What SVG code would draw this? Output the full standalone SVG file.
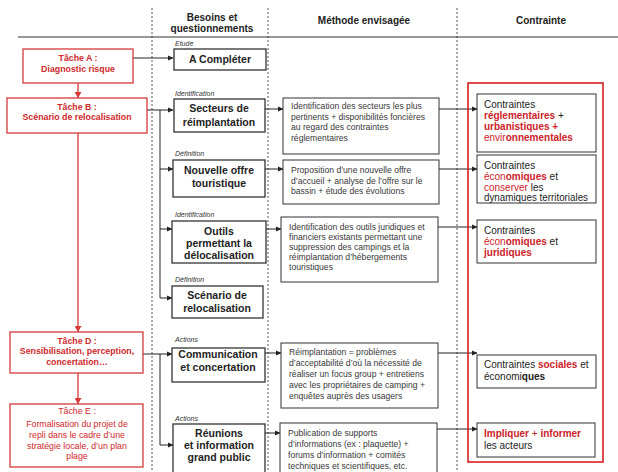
<svg xmlns="http://www.w3.org/2000/svg" width="618" height="472" viewBox="0 0 618 472">
<defs>
<style>
text{font-family:"Liberation Sans",Arial,sans-serif}
.hdr{font-size:10px;font-weight:bold;fill:#222;text-anchor:middle}
.tb{fill:#fff;stroke:#d6393a;stroke-width:1.3}
.tt{font-size:8.8px;font-weight:bold;fill:#d0282c;text-anchor:middle}
.tn{font-size:8.8px;fill:#d0282c;text-anchor:middle}
.bb{fill:#fff;stroke:#333;stroke-width:1.3}
.bt{font-size:10.5px;font-weight:bold;fill:#222;text-anchor:middle}
.lab{font-size:7px;font-style:italic;fill:#333}
.mb{fill:#fff;stroke:#333;stroke-width:1}
.mt{font-size:8.6px;fill:#383838}
.ct{font-size:10px;fill:#222}
.r{fill:#cc2229}
.rb{fill:#cc2229;font-weight:bold}
.dash{stroke:#555;stroke-width:1;stroke-dasharray:2 2;fill:none}
.ln{stroke:#222;stroke-width:1;fill:none}
.rln{stroke:#d6393a;stroke-width:1.3;fill:none}
</style>
<marker id="ah" markerWidth="6" markerHeight="6" refX="5" refY="3" orient="auto" markerUnits="userSpaceOnUse">
<path d="M0,0.5 L5.5,3 L0,5.5 Z" fill="#222"/>
</marker>
<marker id="rah" markerWidth="7" markerHeight="7" refX="6" refY="3.5" orient="auto" markerUnits="userSpaceOnUse">
<path d="M0,0 L6,3.5 L0,7 Z" fill="#d6393a"/>
</marker>
</defs>

<g id="grid">
<line class="dash" x1="152" y1="8" x2="152" y2="472"/>
<line class="dash" x1="268" y1="8" x2="268" y2="472"/>
<line class="dash" x1="457" y1="8" x2="457" y2="472"/>
<line x1="18" y1="37" x2="618" y2="37" stroke="#333" stroke-width="1"/>
<text class="hdr" x="212" y="21">Besoins et</text>
<text class="hdr" x="212" y="32">questionnements</text>
<text class="hdr" x="364" y="24">Méthode envisagée</text>
<text class="hdr" x="541" y="24">Contrainte</text>
</g>

<g id="connectors">
<line class="rln" x1="78" y1="83" x2="78" y2="98" marker-end="url(#rah)"/>
<line class="rln" x1="78" y1="133" x2="78" y2="332" marker-end="url(#rah)"/>
<line class="rln" x1="78" y1="373" x2="78" y2="404" marker-end="url(#rah)"/>
<line class="ln" x1="133" y1="58" x2="173" y2="58" marker-end="url(#ah)"/>
<line class="ln" x1="147" y1="110" x2="173" y2="110" marker-end="url(#ah)"/>
<polyline class="ln" points="160,110 160,298 172,298" marker-end="url(#ah)"/>
<line class="ln" x1="160" y1="169" x2="173" y2="169" marker-end="url(#ah)"/>
<line class="ln" x1="160" y1="229" x2="172" y2="229" marker-end="url(#ah)"/>
<line class="ln" x1="143" y1="354" x2="172" y2="354" marker-end="url(#ah)"/>
<polyline class="ln" points="160,354 160,445 173,445" marker-end="url(#ah)"/>
<line class="ln" x1="265" y1="109" x2="283" y2="109" marker-end="url(#ah)"/>
<line class="ln" x1="265" y1="169" x2="283" y2="169" marker-end="url(#ah)"/>
<line class="ln" x1="266" y1="229" x2="281" y2="229" marker-end="url(#ah)"/>
<line class="ln" x1="265" y1="353" x2="281" y2="353" marker-end="url(#ah)"/>
<line class="ln" x1="265" y1="433" x2="280" y2="433" marker-end="url(#ah)"/>
<line class="ln" x1="439" y1="109" x2="477" y2="109" marker-end="url(#ah)"/>
<line class="ln" x1="439" y1="169" x2="477" y2="169" marker-end="url(#ah)"/>
<line class="ln" x1="438" y1="227" x2="477" y2="227" marker-end="url(#ah)"/>
<line class="ln" x1="438" y1="353" x2="477" y2="353" marker-end="url(#ah)"/>
<line class="ln" x1="437" y1="429" x2="477" y2="429" marker-end="url(#ah)"/>
</g>

<g id="tacheA">
<rect class="tb" x="23" y="49" width="110" height="34"/>
<text class="tt" x="78" y="61">Tâche A :</text>
<text class="tt" x="78" y="72">Diagnostic risque</text>
</g>
<g id="tacheB">
<rect class="tb" x="7" y="98" width="140" height="35"/>
<text class="tt" x="77" y="110">Tâche B :</text>
<text class="tt" x="77" y="120">Scénario de relocalisation</text>
</g>
<g id="tacheD">
<rect class="tb" x="10" y="332" width="133" height="41"/>
<text class="tt" x="77" y="344">Tâche D :</text>
<text class="tt" x="77" y="354">Sensibilisation,  perception,</text>
<text class="tt" x="77" y="365">concertation…</text>
</g>
<g id="tacheE">
<rect class="tb" x="10" y="404" width="133" height="63"/>
<text class="tn" x="77" y="414">Tâche E :</text>
<text class="tn" x="77" y="427">Formalisation du projet de</text>
<text class="tn" x="77" y="438">repli dans le cadre d’une</text>
<text class="tn" x="77" y="449">stratégie locale, d’un plan</text>
<text class="tn" x="77" y="459">plage</text>
</g>

<g id="aCompleter">
<text class="lab" x="175" y="46">Etude</text>
<rect class="bb" x="174" y="49" width="92" height="21"/>
<text class="bt" x="220" y="63">A Compléter</text>
</g>
<g id="secteurs">
<text class="lab" x="175" y="96">Identification</text>
<rect class="bb" x="174" y="99" width="91" height="33"/>
<text class="bt" x="219" y="112">Secteurs de</text>
<text class="bt" x="219" y="126">réimplantation</text>
</g>
<g id="nouvelleOffre">
<text class="lab" x="175" y="156">Définition</text>
<rect class="bb" x="173" y="160" width="92" height="37"/>
<text class="bt" x="219" y="174">Nouvelle offre</text>
<text class="bt" x="219" y="187">touristique</text>
</g>
<g id="outils">
<text class="lab" x="175" y="217">Identification</text>
<rect class="bb" x="172" y="221" width="94" height="42" stroke-width="1.6"/>
<text class="bt" x="219" y="235">Outils</text>
<text class="bt" x="219" y="247">permettant la</text>
<text class="bt" x="219" y="259">délocalisation</text>
</g>
<g id="scenario">
<text class="lab" x="175" y="282">Définition</text>
<rect class="bb" x="172" y="286" width="91" height="32" stroke-width="2"/>
<text class="bt" x="217" y="299">Scénario de</text>
<text class="bt" x="217" y="312">relocalisation</text>
</g>
<g id="communication">
<text class="lab" x="175" y="342">Actions</text>
<rect class="bb" x="172" y="348" width="93" height="34"/>
<text class="bt" x="218" y="358">Communication</text>
<text class="bt" x="218" y="371">et concertation</text>
</g>
<g id="reunions">
<text class="lab" x="175" y="421">Actions</text>
<rect class="bb" x="173" y="424" width="92" height="60"/>
<text class="bt" x="219" y="437">Réunions</text>
<text class="bt" x="219" y="449">et information</text>
<text class="bt" x="219" y="461">grand public</text>
</g>

<g id="methode1">
<rect class="mb" x="283" y="98" width="156" height="56"/>
<text class="mt" x="291" y="109">Identification des secteurs les plus</text>
<text class="mt" x="291" y="120">pertinents + disponibilités foncières</text>
<text class="mt" x="291" y="130">au regard des contraintes</text>
<text class="mt" x="291" y="141">réglementaires</text>
</g>
<g id="methode2">
<rect class="mb" x="283" y="160" width="156" height="44"/>
<text class="mt" x="291" y="173">Proposition d’une nouvelle offre</text>
<text class="mt" x="291" y="184">d’accueil + analyse de l’offre sur le</text>
<text class="mt" x="291" y="194">bassin + étude des évolutions</text>
</g>
<g id="methode3">
<rect class="mb" x="281" y="217" width="157" height="65" stroke-width="1.3"/>
<text class="mt" x="289" y="230">Identification des outils juridiques et</text>
<text class="mt" x="289" y="240">financiers existants permettant une</text>
<text class="mt" x="289" y="250">suppression des campings et la</text>
<text class="mt" x="289" y="260">réimplantation d’hébergements</text>
<text class="mt" x="289" y="270">touristiques</text>
</g>
<g id="methode4">
<rect class="mb" x="281" y="343" width="157" height="65" stroke-width="1.3"/>
<text class="mt" x="289" y="355">Réimplantation = problèmes</text>
<text class="mt" x="289" y="366">d’acceptabilité  d’où  la nécessité de</text>
<text class="mt" x="289" y="377">réaliser un focus group + entretiens</text>
<text class="mt" x="289" y="388">avec les propriétaires de camping +</text>
<text class="mt" x="289" y="399">enquêtes auprès des usagers</text>
</g>
<g id="methode5">
<rect class="mb" x="280" y="423" width="157" height="60"/>
<text class="mt" x="288" y="436">Publication de supports</text>
<text class="mt" x="288" y="447">d’informations (ex : plaquette) +</text>
<text class="mt" x="288" y="458">forums  d’information + comités</text>
<text class="mt" x="288" y="469">techniques et scientifiques, etc.</text>
</g>

<g id="contrainteCadre">
<rect x="468" y="83" width="135" height="379" fill="none" stroke="#d42020" stroke-width="1.6"/>
</g>
<g id="contrainte1">
<rect class="mb" x="477" y="94" width="119" height="58"/>
<text class="ct" x="484" y="108">Contraintes</text>
<text class="ct" x="484" y="119"><tspan class="rb">réglementaires</tspan> +</text>
<text class="ct" x="484" y="130"><tspan class="rb">urbanistiques +</tspan></text>
<text class="ct" x="484" y="141"><tspan class="r">envir</tspan><tspan class="rb">onnementales</tspan></text>
</g>
<g id="contrainte2">
<rect class="mb" x="477" y="155" width="119" height="48"/>
<text class="ct" x="484" y="169">Contraintes</text>
<text class="ct" x="484" y="180"><tspan class="r">écon</tspan><tspan class="rb">omiques</tspan> et</text>
<text class="ct" x="484" y="191"><tspan class="r">conserver</tspan> les</text>
<text class="ct" x="484" y="201" textLength="104" lengthAdjust="spacingAndGlyphs">dynamiques territoriales</text>
</g>
<g id="contrainte3">
<rect class="mb" x="477" y="220" width="119" height="43"/>
<text class="ct" x="484" y="234">Contraintes</text>
<text class="ct" x="484" y="245"><tspan class="r">écon</tspan><tspan class="rb">omiques</tspan> et</text>
<text class="ct" x="484" y="256"><tspan class="rb">juridiques</tspan></text>
</g>
<g id="contrainte4">
<rect class="mb" x="477" y="355" width="119" height="33"/>
<text class="ct" x="484" y="368">Contraintes <tspan class="rb">sociales</tspan> et</text>
<text class="ct" x="484" y="380">économi<tspan font-weight="bold">ques</tspan></text>
</g>
<g id="contrainte5">
<rect class="mb" x="477" y="423" width="118" height="34"/>
<text class="ct" x="484" y="437"><tspan class="rb">Impliquer</tspan> <tspan class="r">+</tspan> <tspan class="rb">informer</tspan></text>
<text class="ct" x="484" y="449">les acteurs</text>
</g>
</svg>
